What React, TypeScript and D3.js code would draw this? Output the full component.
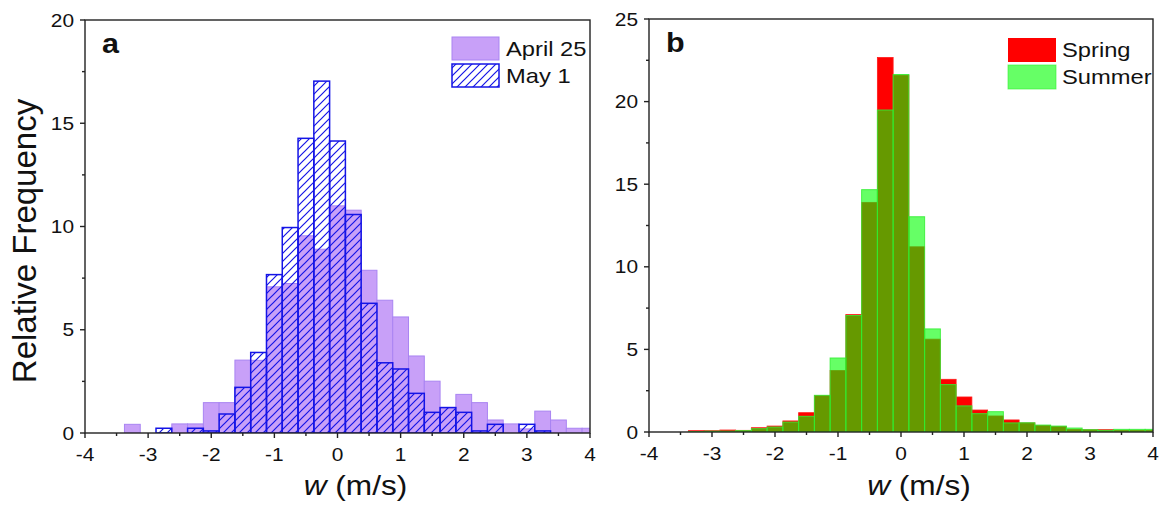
import React from 'react';
import * as d3 from 'd3';

// bin centres (w, m/s), bin width 0.25
const binCenters = [-3.5, -3.25, -3, -2.75, -2.5, -2.25, -2, -1.75, -1.5, -1.25, -1, -0.75, -0.5, -0.25, 0, 0.25, 0.5, 0.75, 1, 1.25, 1.5, 1.75, 2, 2.25, 2.5, 2.75, 3, 3.25, 3.5, 3.75, 4];
const binWidth = 0.25;

// panel a
const april25 = [0, 0.42, 0, 0, 0.44, 0.44, 1.47, 1.47, 3.53, 3.52, 7.08, 7.24, 9.55, 8.9, 11.0, 10.79, 7.88, 6.43, 5.62, 3.73, 2.51, 1.24, 1.87, 1.47, 0.63, 0.44, 0.2, 1.06, 0.63, 0.23, 0.23];
const may1 = [0, 0, 0, 0.23, 0, 0.23, 0.1, 0.92, 2.21, 3.9, 7.67, 9.95, 14.27, 17.04, 14.14, 10.58, 6.28, 3.4, 3.1, 1.92, 1.0, 1.23, 1.0, 0.1, 0.42, 0, 0.42, 0.1, 0, 0, 0];

// panel b
const spring = [0, 0.08, 0.08, 0.12, 0.1, 0.26, 0.36, 0.67, 1.17, 2.2, 3.72, 7.11, 13.9, 22.67, 21.6, 11.21, 5.62, 3.19, 2.12, 1.33, 0.97, 0.73, 0.55, 0.4, 0.33, 0.16, 0.14, 0.14, 0.1, 0.1, 0.1];
const summer = [0, 0.03, 0.05, 0.05, 0.08, 0.2, 0.3, 0.6, 0.95, 2.22, 4.48, 7.05, 14.67, 19.49, 21.64, 13.03, 6.24, 2.87, 1.58, 1.11, 1.23, 0.55, 0.56, 0.42, 0.36, 0.24, 0.14, 0.1, 0.16, 0.16, 0.16];

const xTicks = [-4, -3, -2, -1, 0, 1, 2, 3, 4];
const xMinorTicks = [-3.5, -2.5, -1.5, -0.5, 0.5, 1.5, 2.5, 3.5];
const yTicksA = [0, 5, 10, 15, 20];
const yMinorA = [2.5, 7.5, 12.5, 17.5];
const yTicksB = [0, 5, 10, 15, 20, 25];
const yMinorB = [2.5, 7.5, 12.5, 17.5, 22.5];

const FONT = "'Liberation Sans', Arial, Helvetica, sans-serif";
const INK = '#111';
const SX = 1.13;

function T({ x, y, size, anchor = 'start', weight = 'normal', children }: any) {
  return (
    <text
      transform={`translate(${x},${y}) scale(${SX},1)`}
      fontSize={size}
      fontFamily={FONT}
      textAnchor={anchor}
      fontWeight={weight}
      fill={INK}
    >
      {children}
    </text>
  );
}

function Panel({ id, left, right, top, bottom, yMax, yTicks, yMinor, label, bars, legend }: any) {
  const x = d3.scaleLinear().domain([-4, 4]).range([left, right]);
  const y = d3.scaleLinear().domain([0, yMax]).range([bottom, top]);
  return (
    <g>
      <defs>
        <clipPath id={`clip-${id}`}>
          <rect x={left} y={top} width={right - left} height={bottom - top} />
        </clipPath>
      </defs>
      <g clipPath={`url(#clip-${id})`}>{bars(x, y)}</g>
      <rect x={left} y={top} width={right - left} height={bottom - top} fill="none" stroke="#222" strokeWidth={1.4} />
      {xTicks.map((t) => (
        <g key={'xt' + t}>
          <line x1={x(t)} x2={x(t)} y1={bottom} y2={bottom + 5} stroke="#222" strokeWidth={1.4} />
          <T x={x(t)} y={bottom + 28} size={18.5} anchor="middle">{t < 0 ? '-' + Math.abs(t) : String(t)}</T>
        </g>
      ))}
      {xMinorTicks.map((t) => (
        <line key={'xm' + t} x1={x(t)} x2={x(t)} y1={bottom} y2={bottom + 3} stroke="#222" strokeWidth={1.4} />
      ))}
      {yTicks.map((t: number) => (
        <g key={'yt' + t}>
          <line x1={left - 5} x2={left} y1={y(t)} y2={y(t)} stroke="#222" strokeWidth={1.4} />
          <T x={left - 11} y={y(t) + 6.5} size={18.5} anchor="end">{String(t)}</T>
        </g>
      ))}
      {yMinor.map((t: number) => (
        <line key={'ym' + t} x1={left - 3} x2={left} y1={y(t)} y2={y(t)} stroke="#222" strokeWidth={1.4} />
      ))}
      <T x={left + 17} y={top + 33} size={27} weight="bold">{label}</T>
      {legend}
      <text
        transform={`translate(${(left + right) / 2 + 18},495) scale(${SX},1)`}
        fontSize={28}
        fontFamily={FONT}
        textAnchor="middle"
        fill={INK}
      >
        <tspan fontStyle="italic">w</tspan>
        <tspan> (m/s)</tspan>
      </text>
    </g>
  );
}

const PURPLE = '#c8a0f8';
const PURPLE_EDGE = '#a984f2';
const BLUE = '#1414e6';

export default function App() {
  const barsA = (x: any, y: any) => (
    <g>
      {binCenters.map((c, i) =>
        april25[i] > 0 ? (
          <rect
            key={'a' + i}
            x={x(c - binWidth / 2)}
            y={y(april25[i])}
            width={x(c + binWidth / 2) - x(c - binWidth / 2)}
            height={y(0) - y(april25[i])}
            fill={PURPLE}
            stroke={PURPLE_EDGE}
            strokeWidth={1}
          />
        ) : null
      )}
      {binCenters.map((c, i) =>
        may1[i] > 0 ? (
          <rect
            key={'m' + i}
            x={x(c - binWidth / 2)}
            y={y(may1[i])}
            width={x(c + binWidth / 2) - x(c - binWidth / 2)}
            height={y(0) - y(may1[i])}
            fill="url(#hatch)"
            stroke={BLUE}
            strokeWidth={1.5}
          />
        ) : null
      )}
    </g>
  );

  const barsB = (x: any, y: any) => (
    <g>
      {binCenters.map((c, i) =>
        spring[i] > 0 ? (
          <rect
            key={'s' + i}
            x={x(c - binWidth / 2)}
            y={y(spring[i])}
            width={x(c + binWidth / 2) - x(c - binWidth / 2)}
            height={y(0) - y(spring[i])}
            fill="#ff0000"
            stroke="#ff1a1a"
            strokeWidth={0.8}
          />
        ) : null
      )}
      {binCenters.map((c, i) =>
        summer[i] > 0 ? (
          <rect
            key={'u' + i}
            x={x(c - binWidth / 2)}
            y={y(summer[i])}
            width={x(c + binWidth / 2) - x(c - binWidth / 2)}
            height={y(0) - y(summer[i])}
            fill="#00ff00"
            fillOpacity={0.6}
            stroke="#33ee33"
            strokeOpacity={0.85}
            strokeWidth={1}
          />
        ) : null
      )}
    </g>
  );

  const legendA = (
    <g>
      <rect x={452} y={37} width={47} height={23} fill={PURPLE} stroke={PURPLE_EDGE} strokeWidth={1} />
      <T x={506} y={56} size={21}>April 25</T>
      <rect x={452} y={64} width={47} height={23} fill="url(#hatch)" stroke={BLUE} strokeWidth={1.5} />
      <T x={506} y={83} size={21}>May 1</T>
    </g>
  );

  const legendB = (
    <g>
      <rect x={1008} y={38} width={48} height={24} fill="#ff0000" />
      <T x={1062} y={57} size={21}>Spring</T>
      <rect x={1008} y={65} width={48} height={24} fill="#00ff00" fillOpacity={0.6} stroke="#33ee33" strokeOpacity={0.6} strokeWidth={1} />
      <T x={1062} y={84} size={21}>Summer</T>
    </g>
  );

  return (
    <svg
      width={1165}
      height={507}
      style={{ position: 'absolute', left: 0, top: 0, background: '#fff' }}
    >
      <defs>
        <pattern id="hatch" patternUnits="userSpaceOnUse" width={8} height={8}>
          <path d="M-2,2 L2,-2 M0,8 L8,0 M6,10 L10,6" stroke={BLUE} strokeWidth={1.2} />
        </pattern>
      </defs>
      <rect x={0} y={0} width={1165} height={507} fill="#fff" />
      <text
        transform="translate(36,241) rotate(-90)"
        fontSize={33}
        fontFamily={FONT}
        textAnchor="middle"
        fill={INK}
      >
        Relative Frequency
      </text>
      <Panel
        id="a"
        left={85}
        right={590}
        top={20}
        bottom={433}
        yMax={20}
        yTicks={yTicksA}
        yMinor={yMinorA}
        label="a"
        bars={barsA}
        legend={legendA}
      />
      <Panel
        id="b"
        left={649}
        right={1153}
        top={19}
        bottom={432}
        yMax={25}
        yTicks={yTicksB}
        yMinor={yMinorB}
        label="b"
        bars={barsB}
        legend={legendB}
      />
    </svg>
  );
}
